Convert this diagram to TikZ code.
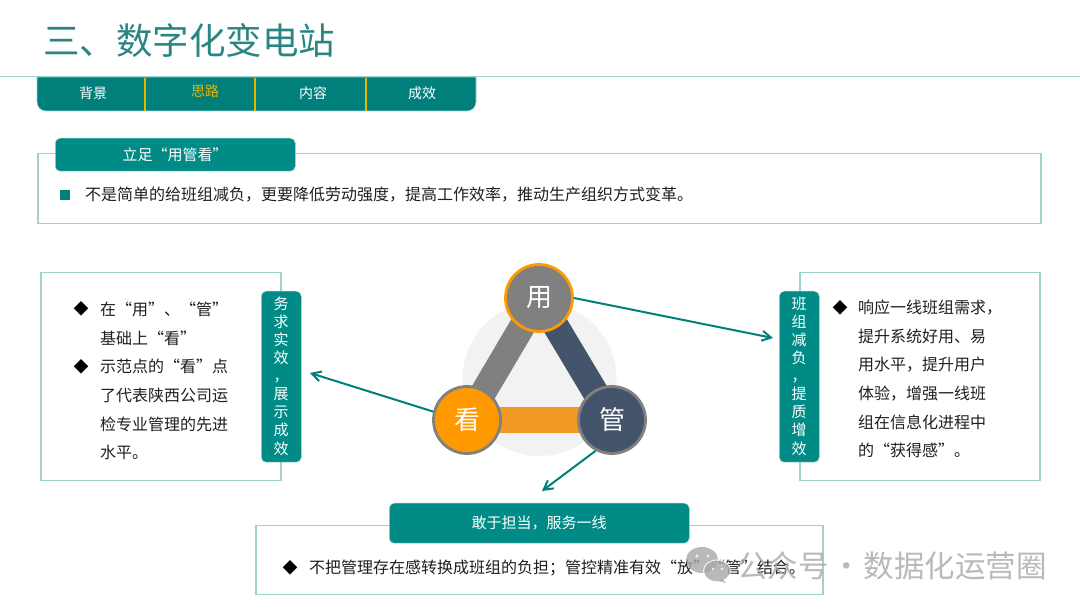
\documentclass[tikz,border=0pt]{standalone}
\usepackage{fontspec}
\setmainfont{Noto Sans CJK SC}
\usetikzlibrary{arrows.meta}
\definecolor{navbg}{HTML}{007F7B}
\definecolor{tabbg}{HTML}{008B87}
\definecolor{boxline}{HTML}{A0D2CC}
\definecolor{gold}{HTML}{E8B400}
\definecolor{ring}{HTML}{808080}
\definecolor{navy}{HTML}{44546A}
\definecolor{orng}{HTML}{FF9900}
\definecolor{barorng}{HTML}{F09A23}
\definecolor{titlec}{HTML}{2A8682}
\definecolor{wm}{HTML}{A8A8A8}
\tikzset{
  panel/.style={draw=boxline,line width=1.5pt,fill=white},
  tabbox/.style={fill=tabbg,draw=boxline,line width=.5pt,rounded corners=5pt},
  tabtext/.style={text=white,font=\fontsize{15}{15}\selectfont,inner sep=0pt},
  vtext/.style={text=white,align=center,font=\fontsize{15}{18.1}\selectfont,inner sep=0pt},
  navtext/.style={text=white,font=\fontsize{14}{14}\selectfont,inner sep=0pt},
  body/.style={anchor=north west,align=left,text=black!88,font=\fontsize{16}{28.6}\selectfont,inner sep=0pt},
  bullet/.style={text=black,font=\fontsize{15}{15}\selectfont,inner sep=0pt},
  link/.style={draw=navbg,line width=2pt,-{Straight Barb[length=9pt,width=10pt]}},
  bar/.style={line width=26pt},
  hub/.style={circle,minimum size=67pt,inner sep=0pt,line width=2.8pt,text=white,font=\fontsize{26}{26}\selectfont}
}
\begin{document}
\begin{tikzpicture}[x=1pt,y=-1pt]
\useasboundingbox (0,0) rectangle (1080,609);
\fill[white] (0,0) rectangle (1080,609);
% title
\node[anchor=west,inner sep=0pt,text=titlec,font=\fontsize{36.5}{37}\selectfont] (title) at (43,41) {三、数字化变电站};
% nav
\path[fill=navbg,draw=boxline,line width=.6pt] (37,77) -- (37,102) .. controls (37,107) and (41,111) .. (46,111) -- (467,111) .. controls (472,111) and (476,107) .. (476,102) -- (476,77) -- cycle;
\draw[boxline,line width=1.2pt] (0,76.5) -- (1080,76.5);
\draw[gold,line width=1.5pt] (145,78) -- (145,111) (255,78) -- (255,111) (366,78) -- (366,111);
\node[navtext] (n1) at (93,93) {背景};
\node[navtext,text=gold] (n2) at (205,91) {思路};
\node[navtext] (n3) at (313,93) {内容};
\node[navtext] (n4) at (422,93) {成效};
% top panel
\node[panel,anchor=north west,minimum width=1003pt,minimum height=70pt,inner sep=0pt] (toppanel) at (37,153) {};
\node[tabbox,anchor=north west,minimum width=240pt,minimum height=33pt,inner sep=0pt] (toptab) at (55,138) {};
\node[tabtext] (toptabt) at (175,155) {立足“用管看”};
\node[fill=navbg,minimum size=10pt,inner sep=0pt] (sq) at (64.5,195) {};
\node[anchor=west,inner sep=0pt,text=black!88,font=\fontsize{16}{16}\selectfont] (toptext) at (85,195) {不是简单的给班组减负，更要降低劳动强度，提高工作效率，推动生产组织方式变革。};
% left panel
\node[panel,anchor=north west,minimum width=240pt,minimum height=208pt,inner sep=0pt] (lp) at (40,272) {};
\node[tabbox,anchor=north west,minimum width=40pt,minimum height=171pt,inner sep=0pt] (lt) at (261,291) {};
\node[vtext] (ltt) at (281,376) {务\\求\\实\\效\\，\\展\\示\\成\\效};
\node[bullet] (lb1) at (81,309) {◆};
\node[bullet] (lb2) at (81,367) {◆};
\node[body] (ltext) at (100,302) {在“用”、“管”\\基础上“看”\\示范点的“看”点\\了代表陕西公司运\\检专业管理的先进\\水平。};
% right panel
\node[panel,anchor=north west,minimum width=240pt,minimum height=208pt,inner sep=0pt] (rp) at (799,272) {};
\node[tabbox,anchor=north west,minimum width=40pt,minimum height=171pt,inner sep=0pt] (rt) at (779,291) {};
\node[vtext] (rtt) at (799,376) {班\\组\\减\\负\\，\\提\\质\\增\\效};
\node[bullet] (rb1) at (840,308) {◆};
\node[body] (rtext) at (858,300) {响应一线班组需求，\\提升系统好用、易\\用水平，提升用户\\体验，增强一线班\\组在信息化进程中\\的“获得感”。};
% bottom panel
\node[panel,anchor=north west,minimum width=567pt,minimum height=69pt,inner sep=0pt] (bp) at (255,525) {};
\node[tabbox,anchor=north west,minimum width=300pt,minimum height=40pt,inner sep=0pt] (bt) at (389,503) {};
\node[tabtext] (btt) at (539,523) {敢于担当，服务一线};
\node[bullet] (bb) at (290,568) {◆};
\node[anchor=west,inner sep=0pt,text=black!88,font=\fontsize{16}{16}\selectfont] (btext) at (309,568) {不把管理存在感转换成班组的负担；管控精准有效“放”“管”结合。};
% triangle
\fill[black!5] (539.5,379) circle (77);
\coordinate (yc) at (539,298);
\coordinate (kc) at (467,420);
\coordinate (gc) at (612,420);
\draw[bar,ring] (yc) -- (kc);
\draw[bar,navy] (yc) -- (gc);
\draw[bar,barorng] (kc) -- (gc);
\node[hub,fill=ring,draw=orng] (yong) at (yc) {用};
\node[hub,fill=orng,draw=ring] (kan) at (kc) {看};
\node[hub,fill=navy,draw=ring] (guan) at (gc) {管};
% arrows
\coordinate (a1) at (773,338);
\coordinate (a2) at (310,373);
\coordinate (a3) at (542,491);
\draw[link] (yong.0) -- (a1);
\draw[link] (kan.166) -- (a2);
\draw[link] (guan.242) -- (a3);
% watermark
\begin{scope}[opacity=.8]
\fill[wm] (702,560) ellipse (16 and 13);
\fill[wm] (717,571) ellipse (13 and 10.5);
\draw[white,line width=1pt] (717,571) ellipse (13.5 and 11);
\fill[wm] (722,579) -- (726,583) -- (718,581) -- cycle;
\fill[white] (697,556) circle (1.6) (708,556) circle (1.6) (713,569) circle (1.3) (722,569) circle (1.3);
\node[anchor=west,inner sep=0pt,text=wm,font=\fontsize{30.5}{30.5}\selectfont] (wmtext) at (737,566) {公众号\hspace{2.5pt}·\hspace{2pt}数据化运营圈};
\end{scope}
\end{tikzpicture}
\end{document}
